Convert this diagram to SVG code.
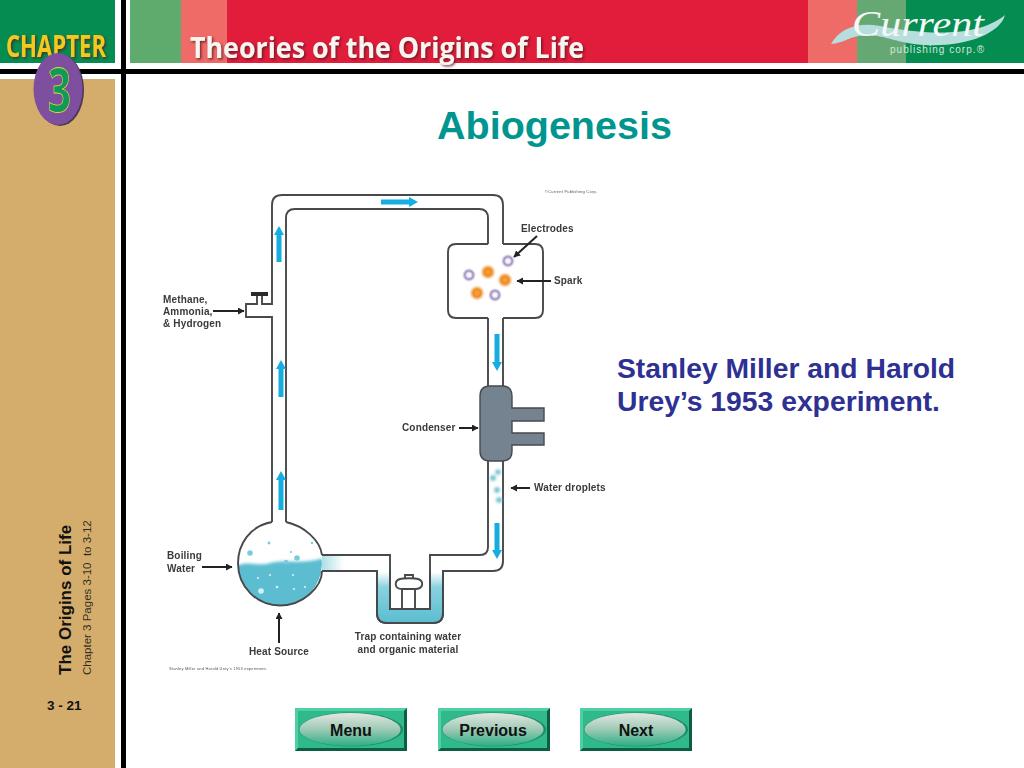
<svg xmlns="http://www.w3.org/2000/svg" width="1024" height="768" viewBox="0 0 1024 768">
<style>
.pipe{fill:none;stroke:#46494c;stroke-width:1.9}
.lab{font-family:"Liberation Sans",Arial,sans-serif;font-weight:700;font-size:10px;fill:#3a3a3c;letter-spacing:.15px}
.tiny{font-family:"Liberation Sans",Arial,sans-serif;font-size:4px;fill:#555}
.flow{stroke:#19ade0;stroke-width:5;fill:none}
.pt{stroke:#222;stroke-width:2;fill:none;marker-end:url(#ah)}
.btn{font-family:"Liberation Sans",Arial,sans-serif;font-weight:700;font-size:16px;fill:#111;text-anchor:middle}
.ss{font-family:"Liberation Sans",Arial,sans-serif;fill:#111}
</style>
<defs>
<marker id="ah" markerUnits="userSpaceOnUse" markerWidth="8" markerHeight="8" refX="6" refY="3.5" orient="auto"><path d="M0 0L6.5 3.5L0 7Z" fill="#222"/></marker>
<filter id="soft" x="-5%" y="-5%" width="110%" height="110%"><feGaussianBlur stdDeviation="0.45"/></filter>
<filter id="fuzz" x="-20%" y="-20%" width="140%" height="140%"><feGaussianBlur stdDeviation="1.6"/></filter>
<filter id="sh" x="-10%" y="-10%" width="120%" height="130%"><feDropShadow dx="1.5" dy="1.5" stdDeviation="1" flood-color="#5a1420" flood-opacity=".8"/></filter>
<linearGradient id="trapw" x1="0" y1="0" x2="0" y2="1"><stop offset="0" stop-color="#fff"/><stop offset=".3" stop-color="#8ad2e0"/><stop offset="1" stop-color="#5bbdd0"/></linearGradient>
<linearGradient id="ov" x1="0" y1="0" x2="0" y2="1"><stop offset="0" stop-color="#e3e6e2"/><stop offset=".45" stop-color="#a4cdb9"/><stop offset="1" stop-color="#2fae85"/></linearGradient>
<linearGradient id="pipew" x1="0" y1="0" x2="1" y2="0"><stop offset="0" stop-color="#6cc3d4"/><stop offset="1" stop-color="#fff"/></linearGradient>
<radialGradient id="org"><stop offset="0" stop-color="#f6a63e"/><stop offset=".5" stop-color="#ef8b26"/><stop offset="1" stop-color="#f5b36b" stop-opacity="0"/></radialGradient>
<radialGradient id="pur"><stop offset="0" stop-color="#fff"/><stop offset=".3" stop-color="#f0ecf6"/><stop offset=".6" stop-color="#9c8dc2"/><stop offset="1" stop-color="#b5a9d2" stop-opacity="0"/></radialGradient>
<g id="button"><rect x="0" y="0" width="112" height="43" fill="#2fb98c"/><path d="M0 0H112L109 3H3V40L0 43Z" fill="#4fd0a4"/><path d="M112 0V43H0L3 40H109V3Z" fill="#0b5f40"/><ellipse cx="56" cy="21.5" rx="52" ry="17" fill="#1a8f68"/><ellipse cx="55" cy="21.5" rx="50.5" ry="16.5" fill="url(#ov)"/></g>
</defs>

<rect width="1024" height="768" fill="#fff"/>
<g id="header">
<rect x="0" y="0" width="115" height="63" fill="#058c50"/>
<rect x="130" y="0" width="51" height="63" fill="#5fab6e"/>
<rect x="181" y="0" width="46" height="63" fill="#ee6b67"/>
<rect x="227" y="0" width="581" height="63" fill="#e11d3b"/>
<rect x="808" y="0" width="49" height="63" fill="#ee6b67"/>
<rect x="857" y="0" width="49" height="63" fill="#66a873"/>
<rect x="906" y="0" width="118" height="63" fill="#058c50"/>
<rect x="0" y="79" width="115" height="689" fill="#d4ad6c"/>
<rect x="121" y="0" width="5" height="768" fill="#000"/>
<rect x="0" y="69" width="1024" height="5" fill="#000"/>
<text x="6" y="57" font-family="'Open Sans','Liberation Sans',sans-serif" font-weight="700" font-size="30" fill="#f4c81c" textLength="100" lengthAdjust="spacingAndGlyphs" filter="url(#sh)">CHAPTER</text>
<text x="190" y="58" font-family="'Open Sans','Liberation Sans',sans-serif" font-weight="700" font-size="28" fill="#f8f4f0" textLength="394" lengthAdjust="spacingAndGlyphs" filter="url(#sh)">Theories of the Origins of Life</text>
</g>
<g id="chapter-badge">
<ellipse cx="60" cy="90" rx="24" ry="36" fill="#4a3a55"/>
<ellipse cx="58" cy="89" rx="24.5" ry="36" fill="#7d4f9e"/>
<text x="48" y="112" font-family="'Open Sans','Liberation Sans',sans-serif" font-weight="700" font-size="60" fill="#0f9a5a" stroke="#e4dc3c" stroke-width=".8" textLength="23" lengthAdjust="spacingAndGlyphs">3</text>
</g>
<g id="logo">
<path d="M831 44C840 28 858 22 880 26C915 33 975 40 1005 15C1000 34 965 47 925 45C900 44 885 35 866 35C852 35 842 44 831 44Z" fill="#b6dedd"/>
<text x="852" y="36" font-family="'Liberation Serif',serif" font-style="italic" font-size="36" fill="#f4f8f6" textLength="132" lengthAdjust="spacingAndGlyphs">Current</text>
<text x="890" y="53" font-family="'Liberation Sans',sans-serif" font-size="10" fill="#cfe8dc" textLength="94">publishing corp.®</text>
</g>
<g id="titles">
<text x="437" y="139" font-family="'Liberation Sans',Arial,sans-serif" font-weight="700" font-size="39.5" fill="#00968f">Abiogenesis</text>
<text font-family="'Liberation Sans',Arial,sans-serif" font-weight="700" font-size="28.3" fill="#2e3192"><tspan x="617" y="378">Stanley Miller and Harold</tspan><tspan x="617" y="411">Urey’s 1953 experiment.</tspan></text>
</g>

<g filter="url(#soft)">
<g id="boiling-flask">
<clipPath id="fc"><circle cx="280" cy="563.5" r="42"/></clipPath>
<g clip-path="url(#fc)"><path d="M236 566C250 560 258 567 270 563C285 559 300 565 324 558V610H236Z" fill="#5bbdd0" filter="url(#fuzz)"/></g>
<rect x="322" y="556" width="22" height="14" fill="url(#pipew)" opacity=".55"/>
<g fill="#d5f0f5"><circle cx="261" cy="591" r="2.8"/><circle cx="277" cy="587" r="1.3"/><circle cx="294" cy="589" r="1.1"/><circle cx="258" cy="578" r="1.1"/><circle cx="270" cy="575" r="1.1"/><circle cx="293" cy="575" r="1.1"/><circle cx="305" cy="587" r="1.1"/></g>
<g fill="#7ccbdc"><circle cx="250" cy="553" r="2.8"/><circle cx="297" cy="558" r="2.8"/><circle cx="269" cy="543" r="1.4"/><circle cx="312" cy="543" r="1.2"/><circle cx="286" cy="562" r="2.2"/><circle cx="291" cy="552" r="1.1"/></g>
<path class="pipe" d="M272 522C250 526 238 544 238 563.5C238 587 257 605.5 280 605.5C303 605.5 322 587 322 571M322 555C320 540 304 526 286 522" stroke-width="2.2"/>
</g>
<g id="tubing">
<path class="pipe" d="M272 522V317H246V304H257V296M262 296V304H272V205Q272 195 282 195H493Q503 195 503 205V244"/>
<rect x="251" y="292" width="17" height="4" fill="#2a2a2c"/>
<path class="pipe" d="M286 522V218Q286 209 295 209H479Q488 209 488 218V244"/>
<path class="pipe" d="M322 555H390V609H430V555H480Q488 555 488 547V461"/>
<path class="pipe" d="M322 571H377V613Q377 623 387 623H433Q443 623 443 613V571H493Q503 571 503 561V461"/>
<path class="pipe" d="M488 318V386M503 318V386"/>
</g>
<g id="trap">
<path d="M377.8 572H389.2V609.8H430.8V572H442.2V613Q442.2 622.2 433 622.2H387Q377.8 622.2 377.8 613Z" fill="url(#trapw)"/>
<path class="pipe" d="M390 571V609H430V571M377 571V613Q377 623 387 623H433Q443 623 443 613V571"/>
<path class="pipe" stroke-width="1.5" d="M402 609V589M415 609V589M402 589C394 589 394 581 400 579C403 578 415 578 418 579C424 581 424 589 415 589ZM405 578V575H413V578"/>
</g>
<g id="chamber">
<path class="pipe" d="M488 244H456Q448 244 448 252V310Q448 318 456 318H488M503 318H535Q543 318 543 310V252Q543 244 535 244H503" stroke-width="2"/>
<circle cx="488" cy="272" r="8" fill="url(#org)"/><circle cx="505" cy="280" r="8" fill="url(#org)"/><circle cx="477" cy="293" r="8" fill="url(#org)"/>
<circle cx="508" cy="261" r="7" fill="url(#pur)"/><circle cx="469" cy="275" r="7" fill="url(#pur)"/><circle cx="495" cy="295" r="7" fill="url(#pur)"/>
</g>
<g id="condenser">
<path d="M490 386H502Q512 386 512 396V408H544V421H512V433H544V445H512V451Q512 461 502 461H490Q480 461 480 451V396Q480 386 490 386Z" fill="#74828f" stroke="#454a50" stroke-width="1.4"/>
</g>
<g id="droplets" fill="#65bcc8" filter="url(#fuzz)">
<circle cx="498" cy="472" r="2.6"/><circle cx="493" cy="478" r="2.8"/><circle cx="497" cy="490" r="2.8"/><circle cx="499" cy="500" r="2.8"/>
</g>
<g id="connectors">
<path class="flow" d="M279 262V234M281 397V368M281 510V479M381 202H410M497 334V363M497 523V551"/>
<g fill="#19ade0"><path d="M279 226L284 235H274Z"/><path d="M281 360L286 369H276Z"/><path d="M281 471L286 480H276Z"/><path d="M418 202L409 207V197Z"/><path d="M497 371L502 362H492Z"/><path d="M497 559L502 550H492Z"/></g>
<path class="pt" d="M213 311H244"/>
<path class="pt" d="M537 236L514 257"/>
<path class="pt" d="M551 281H517"/>
<path class="pt" d="M459 428H478"/>
<path class="pt" d="M530 488H511"/>
<path class="pt" d="M202 567H232"/>
<path class="pt" d="M279 643V613"/>
</g>
<g id="labels">
<text class="lab"><tspan x="163" y="303">Methane,</tspan><tspan x="163" y="315">Ammonia,</tspan><tspan x="163" y="327">&amp; Hydrogen</tspan></text>
<text class="lab" x="521" y="232">Electrodes</text>
<text class="lab" x="554" y="284">Spark</text>
<text class="lab" x="402" y="431">Condenser</text>
<text class="lab" x="534" y="491">Water droplets</text>
<text class="lab"><tspan x="167" y="559">Boiling</tspan><tspan x="167" y="572">Water</tspan></text>
<text class="lab" x="249" y="655">Heat Source</text>
<text class="lab" text-anchor="middle"><tspan x="408" y="640">Trap containing water</tspan><tspan x="408" y="653">and organic material</tspan></text>
<text class="tiny" x="545" y="193" textLength="52">©Current Publishing Corp.</text>
<text class="tiny" x="169" y="670" textLength="98">Stanley Miller and Harold Urey’s 1953 experiment.</text>
</g>
</g>

<g id="sidebar">
<text class="ss" transform="translate(71 675) rotate(-90)" font-weight="700" font-size="17">The Origins of Life</text>
<text class="ss" transform="translate(91 675) rotate(-90)" font-size="11.5" xml:space="preserve" fill-opacity=".85">Chapter 3 Pages 3-10  to 3-12</text>
<text class="ss" x="47" y="710" font-weight="700" font-size="13.5">3 - 21</text>
</g>
<g id="btn-menu"><use href="#button" x="295" y="708"/><text class="btn" x="351" y="735.5">Menu</text></g>
<g id="btn-previous"><use href="#button" x="438" y="708"/><text class="btn" x="493" y="735.5">Previous</text></g>
<g id="btn-next"><use href="#button" x="580" y="708"/><text class="btn" x="636" y="735.5">Next</text></g>
</svg>
